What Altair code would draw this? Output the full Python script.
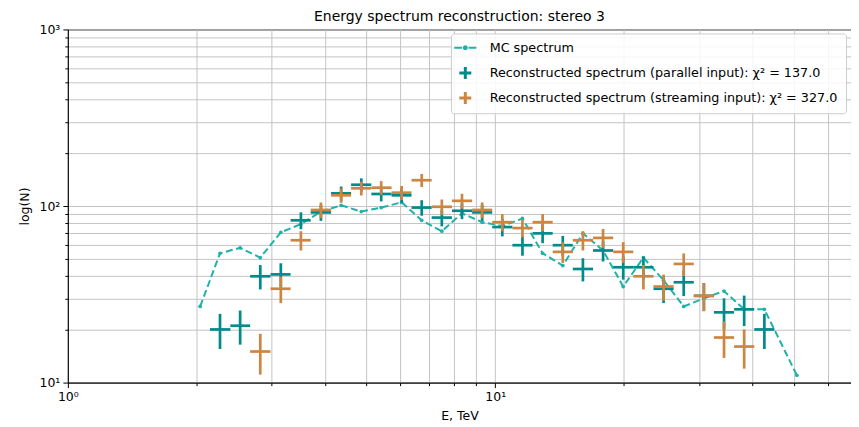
import altair as alt
import pandas as pd

# ---- data ----
E_center = [2.04, 2.27, 2.53, 2.82, 3.15, 3.51, 3.91, 4.36, 4.86, 5.41, 6.04, 6.73, 7.50,
            8.36, 9.32, 10.39, 11.58, 12.91, 14.39, 16.04, 17.88, 19.93, 22.22, 24.77,
            27.61, 30.78, 34.31, 38.24, 42.64]
E_edges = [1.93, 2.15, 2.40, 2.67, 2.98, 3.32, 3.70, 4.13, 4.60, 5.13, 5.72, 6.37, 7.10,
           7.92, 8.83, 9.84, 10.97, 12.23, 13.63, 15.19, 16.94, 18.88, 21.04, 23.46,
           26.15, 29.15, 32.49, 36.22, 40.38, 45.01]

E_mc = E_center + [50.8]
N_mc = [27, 54, 58, 51, 71, 79, 93, 101, 93, 98, 105, 83, 72, 91, 81, 77, 85, 54, 46, 70,
        56, 35, 51, 38, 27, 30, 33, 26, 26, 11]

# parallel input: bins 1..28
par_first = 1
N_par = [20, 21, 40, 41, 83, 92, 118, 132, 117, 115, 98, 86, 94, 92, 76, 60, 70, 60, 44, 56,
         45, 45, 34, 37, 31, 25, 26, 20]
err_par = [4.5, 4.6, 6.3, 6.4, 9.1, 9.6, 10.9, 11.5, 10.8, 10.7, 9.9, 9.3, 9.7, 9.6, 8.7, 7.7,
           8.4, 7.7, 6.6, 7.5, 6.7, 6.7, 5.8, 6.1, 5.6, 5.0, 5.1, 4.5]

# streaming input: bins 3..27
str_first = 3
N_str = [15, 34, 64, 95, 115, 126, 127, 119, 140, 99, 107, 95, 81, 75, 81, 55, 64, 66, 55, 40,
         35, 47, 31, 18, 16]
err_str = [3.9, 5.8, 8.0, 9.7, 10.7, 11.2, 11.3, 10.9, 11.8, 9.9, 10.3, 9.7, 9.0, 8.7, 9.0, 7.4,
           8.0, 8.1, 7.4, 6.3, 5.9, 6.9, 5.6, 4.2, 4.0]

series_names = ["MC spectrum",
                "Reconstructed spectrum (parallel input): \u03c7\u00b2 = 137.0",
                "Reconstructed spectrum (streaming input): \u03c7\u00b2 = 327.0"]
series_colors = ["#20b2aa", "#008b8b", "#cd853f"]


def rec_frame(first, N, err):
    rows = []
    for i, (n, e) in enumerate(zip(N, err)):
        k = first + i
        rows.append({"E": E_center[k], "E_lo": E_edges[k], "E_hi": E_edges[k + 1],
                     "N": n, "N_lo": n - e, "N_hi": n + e})
    return pd.DataFrame(rows)


mc_df = pd.DataFrame({"E": E_mc, "N": N_mc})
par_df = rec_frame(par_first, N_par, err_par)
str_df = rec_frame(str_first, N_str, err_str)
leg_df = pd.DataFrame({"series": series_names, "E": [2.0, 2.0, 2.0], "N": [20, 20, 20]})

FONT = "DejaVu Sans"
x_vals = [1, 2, 3, 4, 5, 6, 7, 8, 9, 10, 20, 30, 40, 50, 60]
y_vals = [10, 20, 30, 40, 50, 60, 70, 80, 90, 100, 200, 300, 400, 500, 600, 700, 800, 900, 1000]

x_scale = alt.Scale(type="log", domain=[1, 68], nice=False)
y_scale = alt.Scale(type="log", domain=[10, 1000], nice=False)

x_axis = alt.Axis(values=x_vals, title="E, TeV", grid=True,
                  labelExpr="datum.value == 1 ? '10\u2070' : datum.value == 10 ? '10\u00b9' : ''",
                  tickSize={"condition": {"test": "datum.value == 1 || datum.value == 10", "value": 5}, "value": 3},
                  labelPadding=3, titlePadding=6, labelFlush=False)
y_axis = alt.Axis(values=y_vals, title="log(N)", grid=True,
                  labelExpr="datum.value == 10 ? '10\u00b9' : datum.value == 100 ? '10\u00b2' : datum.value == 1000 ? '10\u00b3' : ''",
                  tickSize={"condition": {"test": "datum.value == 10 || datum.value == 100 || datum.value == 1000", "value": 5}, "value": 3},
                  labelPadding=3, titlePadding=8, labelFlush=False)

X = alt.X("E:Q", scale=x_scale, axis=x_axis)
Y = alt.Y("N:Q", scale=y_scale, axis=y_axis)

mc_line = alt.Chart(mc_df).mark_line(color=series_colors[0], strokeWidth=2,
                                     strokeDash=[7, 3.5]).encode(x=X, y=Y)
mc_pts = alt.Chart(mc_df).mark_circle(color=series_colors[0], size=14, opacity=1).encode(x=X, y=Y)


def cross_layers(df, color):
    h = alt.Chart(df).mark_rule(color=color, strokeWidth=2.7).encode(
        x=alt.X("E_lo:Q", scale=x_scale, axis=x_axis), x2="E_hi:Q", y=Y)
    v = alt.Chart(df).mark_rule(color=color, strokeWidth=2.7).encode(
        x=X, y=alt.Y("N_lo:Q", scale=y_scale, axis=y_axis), y2="N_hi:Q")
    return [h, v]


mc_path = ("M-1.85,-0.17H-0.55V0.17H-1.85Z M0.55,-0.17H1.85V0.17H0.55Z "
           "M0.42,0A0.42,0.42 0 1,1 -0.42,0A0.42,0.42 0 1,1 0.42,0Z")
cross_path = "M-0.25,-1H0.25V-0.25H1V0.25H0.25V1H-0.25V0.25H-1V-0.25H-0.25Z"

legend = alt.Legend(title=None, orient="none", legendX=384, legendY=4,
                    fillColor="rgba(255,255,255,0.85)", strokeColor="#cccccc",
                    cornerRadius=3, padding=8, rowPadding=11.2, symbolSize=144,
                    symbolOpacity=1, symbolStrokeWidth=0, labelFont=FONT,
                    labelFontSize=12.8, labelColor="black", labelOffset=18,
                    labelLimit=600)

leg_layer = alt.Chart(leg_df).mark_point(filled=True, opacity=0).encode(
    x=X, y=Y,
    color=alt.Color("series:N", scale=alt.Scale(domain=series_names, range=series_colors),
                    legend=legend, sort=series_names),
    shape=alt.Shape("series:N", scale=alt.Scale(domain=series_names,
                                                range=[mc_path, cross_path, cross_path]),
                    legend=legend, sort=series_names),
)

layers = [mc_line, mc_pts] + cross_layers(par_df, series_colors[1]) + \
    cross_layers(str_df, series_colors[2]) + [leg_layer]

chart = alt.layer(*layers).properties(
    width=785, height=354,
    padding={"left": 60, "top": 21, "right": 0, "bottom": 42},
    autosize=alt.AutoSizeParams(type="none"),
    title=alt.TitleParams("Energy spectrum reconstruction: stereo 3", font=FONT, fontSize=14,
                          fontWeight="normal", color="black", offset=-1, anchor="middle"),
).configure_axis(
    labelFont=FONT, labelFontSize=12.5, labelColor="black",
    titleFont=FONT, titleFontSize=12.5, titleColor="black", titleFontWeight="normal",
    tickColor="black", domainColor="black", domainWidth=1, tickWidth=1,
    gridColor="#c4c4c4", gridWidth=1,
).configure_view(stroke="black", strokeWidth=1)

chart.save("out.html", embed_options={"renderer": "svg", "actions": False})
